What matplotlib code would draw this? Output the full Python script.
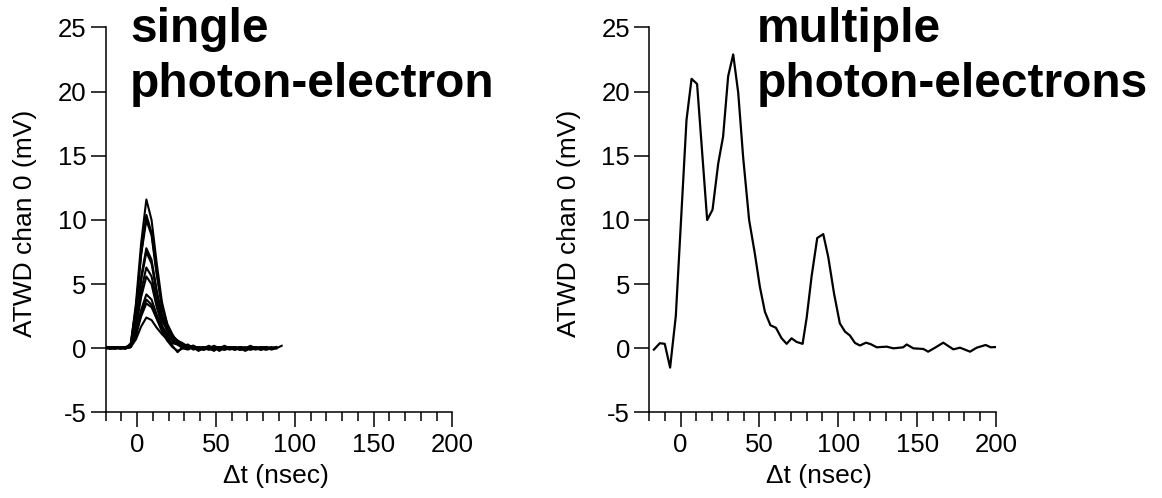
import matplotlib
matplotlib.use("Agg")
import matplotlib.pyplot as plt
from matplotlib.ticker import MultipleLocator

plt.rcParams['font.family'] = ['Liberation Sans', 'DejaVu Sans']
plt.rcParams['axes.unicode_minus'] = False

# sample times (nsec) for the single photo-electron traces
t_single = [-20.5, -17.2, -13.9, -10.6, -7.3, -4.0, -0.7, 2.6, 5.9, 9.2, 12.5,
            15.8, 19.1, 22.4, 25.7, 29.0, 32.3, 35.6, 38.9, 42.2, 45.5, 48.8,
            52.1, 55.4, 58.7, 62.0, 65.3, 68.6, 71.9, 75.2, 78.5, 81.8, 85.1,
            88.4, 91.7]

# ATWD chan 0 (mV), one list per trace
spe_traces = [
    [0.1, 0.0, 0.1, 0.0, 0.0, 0.3, 3.5, 8.2, 11.6, 10.0, 6.6, 3.6, 1.9, 1.0, 0.5, 0.3, 0.1, 0.2,
     0.0, -0.1, 0.1, 0.0, 0.1, -0.1, 0.0, 0.1, 0.0, -0.1, 0.1, 0.0, 0.0, 0.1, -0.1, 0.0, 0.2],
    [0.0, 0.1, 0.0, 0.0, 0.1, 0.2, 3.0, 7.4, 10.4, 9.0, 5.9, 3.2, 1.7, 0.9, 0.6, 0.2, 0.0, 0.1,
     -0.2, 0.0, 0.1, -0.1, 0.0, 0.2, 0.0, -0.1, 0.0, 0.1, -0.1, 0.0, 0.1, 0.0],
    [0.2, 0.0, 0.0, 0.1, 0.0, 0.4, 3.2, 7.3, 10.0, 8.8, 5.7, 3.3, 1.9, 1.1, 0.4, 0.3, 0.2, -0.1,
     0.0, 0.1, 0.0, -0.2, 0.1, 0.0, 0.0, 0.1, -0.1, 0.0, 0.2, 0.0, -0.1, 0.0, 0.1, 0.0],
    [0.0, 0.1, 0.1, 0.0, 0.0, 0.2, 2.3, 5.6, 7.8, 6.9, 4.5, 2.6, 1.5, 0.9, 0.5, 0.2, 0.3, 0.0,
     0.1, -0.1, 0.0, 0.2, 0.0, -0.1, 0.1, 0.0, 0.0, -0.2, 0.0, 0.1, 0.0, 0.1, 0.0],
    [0.1, 0.0, 0.0, 0.1, 0.0, 0.1, 2.1, 5.3, 7.5, 6.6, 4.3, 2.4, 1.3, 0.6, 0.3, 0.0, -0.1, 0.1,
     0.0, 0.0, 0.2, 0.0, -0.1, 0.0, 0.1, 0.0, -0.1, 0.0, 0.1, 0.0, -0.1, 0.0],
    [0.0, 0.0, 0.1, 0.0, 0.1, 0.2, 1.9, 4.5, 6.3, 5.6, 3.7, 2.1, 1.5, 1.0, 0.6, 0.4, 0.1, 0.2,
     0.0, 0.1, -0.1, 0.0, 0.1, 0.0, 0.0, -0.1, 0.1, 0.0, 0.0, 0.1, 0.0, -0.1, 0.0, 0.1],
    [0.1, 0.0, 0.0, 0.0, 0.1, 0.1, 1.6, 4.0, 5.6, 5.0, 3.2, 1.8, 0.9, 0.2, -0.3, 0.1, 0.0, 0.2,
     -0.1, 0.0, 0.0, 0.1, -0.2, 0.0, 0.1, 0.0, -0.1, 0.0, 0.0, 0.1, -0.1, 0.0],
    [0.0, 0.1, 0.0, 0.1, 0.0, 0.2, 1.3, 3.0, 4.2, 3.8, 2.6, 1.7, 1.1, 0.7, 0.6, 0.3, 0.2, 0.0,
     0.1, 0.0, -0.1, 0.0, 0.1, 0.0, 0.1, -0.1, 0.0, 0.0, 0.1, 0.0, 0.0, -0.1, 0.0, 0.1],
    [0.1, 0.0, 0.1, 0.0, 0.0, 0.1, 1.1, 2.7, 3.8, 3.4, 2.3, 1.3, 0.6, 0.1, -0.2, 0.0, 0.1, 0.0,
     -0.1, 0.1, 0.0, 0.0, 0.1, -0.1, 0.0, 0.0, 0.1, 0.0, -0.1, 0.0, 0.1, 0.0, 0.0],
    [0.0, 0.0, 0.0, 0.1, 0.0, 0.1, 1.0, 2.5, 3.5, 3.2, 2.3, 1.5, 0.9, 0.6, 0.3, 0.1, 0.0, 0.1,
     0.0, -0.1, 0.0, 0.1, 0.0, 0.0, -0.1, 0.0, 0.1, 0.0, 0.0, -0.1, 0.0, 0.1],
    [0.1, 0.0, 0.1, 0.0, 0.1, 0.1, 0.7, 1.7, 2.4, 2.2, 1.6, 1.1, 0.7, 0.4, 0.3, 0.1, 0.2, 0.0,
     0.1, 0.0, 0.0, -0.1, 0.1, 0.0, 0.0, 0.1, -0.1, 0.0, 0.1, 0.0, 0.0, 0.1, 0.0],
]

# multiple photo-electron waveform
t_multi = [-16.9, -13.1, -10.0, -6.6, -3.0, 3.8, 7.0, 10.5, 16.9, 20.3, 23.9, 27.0,
           30.2, 33.4, 36.6, 39.7, 43.5, 47.1, 50.3, 53.5, 57.0, 60.5, 64.0, 67.3,
           70.4, 73.6, 77.4, 80.0, 83.1, 86.7, 90.5, 93.7, 97.3, 101.0, 104.3, 107.4,
           110.6, 113.8, 117.6, 120.5, 124.4, 130.7, 135.0, 141.2, 143.4, 147.6, 154.0,
           157.0, 161.4, 166.6, 173.0, 177.2, 183.6, 187.8, 193.5, 196.7, 200.0]
v_multi = [-0.1, 0.4, 0.35, -1.5, 2.5, 17.8, 21.0, 20.6, 10.0, 10.8, 14.4, 16.5,
           21.2, 22.9, 19.9, 14.9, 10.0, 7.4, 4.8, 2.85, 1.8, 1.6, 0.8, 0.35,
           0.78, 0.5, 0.35, 2.4, 5.6, 8.6, 8.9, 7.1, 4.3, 1.95, 1.3, 1.0,
           0.42, 0.22, 0.44, 0.33, 0.08, 0.13, 0.0, 0.08, 0.3, 0.0, -0.05,
           -0.26, 0.05, 0.44, -0.08, 0.05, -0.26, 0.05, 0.26, 0.08, 0.1]

fig = plt.figure(figsize=(11.62, 4.98), dpi=100)
ax1 = fig.add_axes([0.0908, 0.1717, 0.2986, 0.7731])
ax2 = fig.add_axes([0.5585, 0.1717, 0.2986, 0.7731])

for v in spe_traces:
    ax1.plot(t_single[:len(v)], v, color='black', lw=1.5)
ax2.plot(t_multi, v_multi, color='black', lw=1.6)

titles = [('single', 'photon-electron'), ('multiple', 'photon-electrons')]
title_x = [0.071, 0.310]
for ax, title, tx in zip([ax1, ax2], titles, title_x):
    ax.set_xlim(-20, 200)
    ax.set_ylim(-5, 25)
    ax.xaxis.set_major_locator(MultipleLocator(50))
    ax.xaxis.set_minor_locator(MultipleLocator(10))
    ax.yaxis.set_major_locator(MultipleLocator(5))
    for side in ['top', 'right']:
        ax.spines[side].set_visible(False)
    for side in ['left', 'bottom']:
        ax.spines[side].set_linewidth(1.1)
    ax.tick_params(which='major', length=10.5, width=1.1, labelsize=18.5, pad=4)
    ax.tick_params(which='minor', length=6.5, width=1.1)
    ax.tick_params(axis='y', pad=3)
    ax.set_xlabel('Δt (nsec)', fontsize=19)
    ax.set_ylabel('ATWD chan 0 (mV)', fontsize=19)
    ax.yaxis.set_label_coords(-0.197, 0.49)
    ax.xaxis.set_label_coords(0.49, -0.133)
    for line, ty in zip(title, [0.9623, 0.8195]):
        ax.text(tx, ty, line, transform=ax.transAxes, fontsize=34.5,
                fontweight='bold', ha='left', va='baseline', clip_on=False)

fig.savefig('out.png', dpi=100)
